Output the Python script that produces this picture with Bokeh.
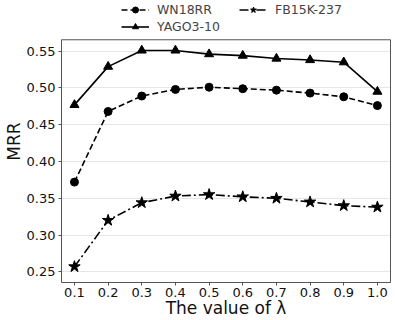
from bokeh.plotting import figure
from bokeh.models import (Legend, LegendItem, FixedTicker, Range1d, NumeralTickFormatter,
                          LinearAxis, Span)
from bokeh.embed import file_html
from bokeh.resources import INLINE

lam = [0.1, 0.2, 0.3, 0.4, 0.5, 0.6, 0.7, 0.8, 0.9, 1.0]
wn18rr = [0.372, 0.468, 0.489, 0.498, 0.501, 0.499, 0.497, 0.493, 0.488, 0.476]
yago = [0.477, 0.529, 0.551, 0.551, 0.546, 0.544, 0.540, 0.538, 0.535, 0.495]
fb15k = [0.257, 0.320, 0.344, 0.353, 0.355, 0.352, 0.350, 0.345, 0.340, 0.338]
y_ticks = [0.25, 0.30, 0.35, 0.40, 0.45, 0.50, 0.55]

FONT = "DejaVu Sans"
EDGE = "#555555"
Y_LO, Y_HI = 0.2355, 0.5655   # visible data box
Y_TOP = 0.6189                # extra head room holding the legend

p = figure(width=395, height=320, output_backend="svg", toolbar_location=None,
           x_range=Range1d(0.0615, 1.0389), y_range=Range1d(Y_LO, Y_TOP),
           min_border_left=40, min_border_right=5, min_border_top=0, min_border_bottom=30)

p.outline_line_color = None
p.xgrid.grid_line_color = None
p.ygrid.grid_line_color = "#e6e6e6"
p.ygrid.grid_line_width = 1

right_axis = LinearAxis(ticker=FixedTicker(ticks=[]), bounds=(Y_LO, Y_HI),
                        axis_line_color=EDGE, major_tick_line_color=None,
                        minor_tick_line_color=None, major_label_text_font_size="0px")
p.add_layout(right_axis, "right")
p.add_layout(Span(location=Y_HI, dimension="width", line_color=EDGE, line_width=1))

for ax in (p.xaxis[0], p.yaxis[0]):
    ax.axis_line_color = EDGE
    ax.major_tick_line_color = EDGE
    ax.major_tick_in = 0
    ax.major_tick_out = 3
    ax.minor_tick_line_color = None
    ax.major_label_text_font = FONT
    ax.major_label_text_font_size = "13px"
    ax.major_label_text_color = "#111111"
    ax.axis_label_text_font = FONT
    ax.axis_label_text_font_size = "17px"
    ax.axis_label_text_font_style = "normal"
    ax.axis_label_text_color = "#111111"

p.xaxis[0].ticker = FixedTicker(ticks=lam)
p.xaxis[0].formatter = NumeralTickFormatter(format="0.0")
p.xaxis[0].axis_label = "The value of λ"
p.xaxis[0].axis_label_standoff = -2
p.xaxis[0].major_label_standoff = 2
p.yaxis[0].ticker = FixedTicker(ticks=y_ticks)
p.yaxis[0].formatter = NumeralTickFormatter(format="0.00")
p.yaxis[0].bounds = (Y_LO, Y_HI)
p.yaxis[0].axis_label = "MRR"
p.yaxis[0].axis_label_standoff = 0
p.yaxis[0].major_label_standoff = 3

l1 = p.line(lam, wn18rr, line_color="black", line_width=1.6, line_dash="6 3")
s1 = p.scatter(lam, wn18rr, marker="circle", size=8, fill_color="black", line_color="black")
l2 = p.line(lam, yago, line_color="black", line_width=1.6)
s2 = p.scatter(lam, yago, marker="triangle", size=9, fill_color="black", line_color="black")
l3 = p.line(lam, fb15k, line_color="black", line_width=1.6, line_dash="9 3 2 3")
s3 = p.scatter(lam, fb15k, marker="star", size=12, fill_color="black", line_color="black")

legend = Legend(items=[
    LegendItem(label="WN18RR", renderers=[l1, s1]),
    LegendItem(label="YAGO3-10", renderers=[l2, s2]),
    LegendItem(label="FB15K-237", renderers=[l3, s3]),
], ncols=2, orientation="vertical", location=(60, 248),
    border_line_color=None, background_fill_alpha=0,
    label_text_font=FONT, label_text_font_size="12.5px",
    glyph_width=28, glyph_height=15, label_height=15, label_width=80, spacing=2,
    padding=0, margin=0, label_standoff=8)
p.add_layout(legend, "center")

open("out.html", "w").write(file_html(p, INLINE))
